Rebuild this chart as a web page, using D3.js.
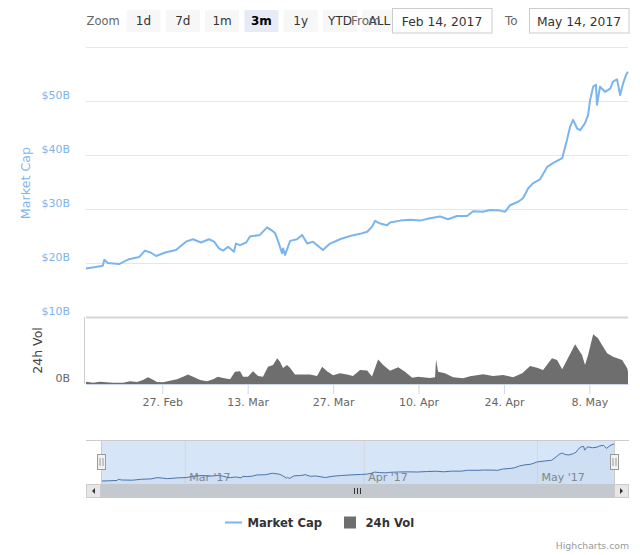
<!DOCTYPE html>
<html><head><meta charset="utf-8">
<script src="https://cdn.jsdelivr.net/npm/d3@7"></script>
<style>html,body{margin:0;padding:0;background:#fff;}svg{display:block;}</style>
</head><body>
<script>
// ---------- data ----------
const mcDates = ["2017-02-14T12","2017-02-15T20","2017-02-17T06","2017-02-17T12","2017-02-18T02","2017-02-19T22","2017-02-21T13","2017-02-23T05","2017-02-24T04","2017-02-25T04","2017-02-26T00","2017-02-27T15","2017-03-01T06","2017-03-02T21","2017-03-04T01","2017-03-05T08","2017-03-06T16","2017-03-07T12","2017-03-08T07","2017-03-08T23","2017-03-09T19","2017-03-10T18","2017-03-11T02","2017-03-11T18","2017-03-12T18","2017-03-13T09","2017-03-15T00","2017-03-16T04","2017-03-17T00","2017-03-17T12","2017-03-18T00","2017-03-18T15","2017-03-18T19","2017-03-19T03","2017-03-19T23","2017-03-21T02","2017-03-21T22","2017-03-22T18","2017-03-23T17","2017-03-25T08","2017-03-26T12","2017-03-28T03","2017-03-29T19","2017-03-31T10","2017-04-01T14","2017-04-02T09","2017-04-02T21","2017-04-03T17","2017-04-04T20","2017-04-05T08","2017-04-07T00","2017-04-08T15","2017-04-10T06","2017-04-11T21","2017-04-13T13","2017-04-14T20","2017-04-16T08","2017-04-17T23","2017-04-18T23","2017-04-20T14","2017-04-21T18","2017-04-23T09","2017-04-24T05","2017-04-25T00","2017-04-26T08","2017-04-27T03","2017-04-27T23","2017-04-28T19","2017-04-29T22","2017-05-01T02","2017-05-02T01","2017-05-03T13","2017-05-04T08","2017-05-04T20","2017-05-05T08","2017-05-06T00","2017-05-06T12","2017-05-07T07","2017-05-07T19","2017-05-08T03","2017-05-08T15","2017-05-09T02","2017-05-09T06","2017-05-09T18","2017-05-10T14","2017-05-11T10","2017-05-11T21","2017-05-12T13","2017-05-13T01","2017-05-13T13","2017-05-14T00","2017-05-14T08"];
const mcValues = [19.0,19.2,19.5,20.6,20.0,19.8,20.7,21.1,22.3,21.9,21.3,22.0,22.4,23.95,24.4,23.8,24.4,23.95,22.7,22.3,23.0,22.1,23.6,23.3,23.8,24.9,25.2,26.6,26.0,25.5,24.0,21.8,22.7,21.5,24.1,24.4,25.2,23.6,23.95,22.4,23.6,24.4,25.0,25.4,25.8,26.7,27.8,27.3,27.0,27.5,27.85,28.0,27.85,28.3,28.6,28.1,28.7,28.7,29.6,29.5,29.8,29.7,29.5,30.7,31.35,32.0,33.8,34.8,35.5,37.8,38.5,39.4,42.8,45.2,46.5,44.9,44.6,45.9,47.4,50.2,52.65,53.0,49.3,52.65,51.7,52.3,53.6,54.0,51.1,53.3,54.8,55.4];

const volDates = ["2017-02-14T12","2017-02-15T16","2017-02-16T19","2017-02-18T22","2017-02-20T14","2017-02-21T17","2017-02-22T21","2017-02-23T20","2017-02-24T16","2017-02-25T08","2017-02-26T03","2017-02-27T03","2017-02-28T06","2017-03-01T10","2017-03-02T10","2017-03-03T05","2017-03-04T01","2017-03-05T05","2017-03-06T08","2017-03-07T08","2017-03-08T03","2017-03-08T23","2017-03-10T03","2017-03-10T22","2017-03-11T18","2017-03-12T06","2017-03-13T01","2017-03-13T21","2017-03-14T17","2017-03-15T12","2017-03-16T08","2017-03-17T04","2017-03-17T20","2017-03-18T07","2017-03-18T19","2017-03-19T11","2017-03-19T23","2017-03-20T18","2017-03-22T02","2017-03-23T05","2017-03-24T09","2017-03-25T05","2017-03-26T00","2017-03-27T00","2017-03-28T03","2017-03-29T07","2017-03-30T06","2017-03-31T10","2017-04-01T14","2017-04-02T09","2017-04-03T09","2017-04-04T05","2017-04-05T08","2017-04-06T16","2017-04-07T19","2017-04-08T23","2017-04-09T22","2017-04-11T21","2017-04-12T17","2017-04-12T21","2017-04-13T05","2017-04-14T08","2017-04-15T16","2017-04-17T07","2017-04-18T11","2017-04-20T14","2017-04-22T05","2017-04-23T21","2017-04-25T12","2017-04-27T00","2017-04-28T07","2017-04-29T10","2017-04-30T10","2017-05-01T21","2017-05-02T17","2017-05-03T13","2017-05-04T08","2017-05-05T16","2017-05-06T19","2017-05-07T07","2017-05-07T19","2017-05-08T15","2017-05-09T10","2017-05-10T06","2017-05-10T22","2017-05-11T21","2017-05-13T09","2017-05-14T05","2017-05-14T08"];
const volValues = [0.14,0.08,0.14,0.08,0.08,0.16,0.12,0.24,0.40,0.28,0.12,0.10,0.20,0.28,0.44,0.56,0.44,0.24,0.16,0.28,0.44,0.36,0.28,0.73,0.76,0.44,0.44,0.76,0.48,0.44,1.03,1.13,1.53,1.33,0.96,1.13,0.96,0.56,0.56,0.56,0.48,1.03,0.76,0.52,0.64,0.56,0.48,0.84,0.81,0.45,1.46,1.13,0.79,1.00,0.73,0.38,0.44,0.36,0.40,1.47,0.73,0.64,0.40,0.34,0.46,0.58,0.48,0.54,0.40,0.64,1.07,0.97,0.84,1.53,1.43,0.88,1.43,2.37,1.73,1.13,1.73,2.97,2.73,2.23,1.83,1.63,1.43,0.94,0.73];

const xDomain = ["2017-02-14T12","2017-05-14T08"];
const xTickDates = ["2017-02-27T00","2017-03-13T00","2017-03-27T00","2017-04-10T00","2017-04-24T00","2017-05-08T00"];
const navTickDates = ["2017-03-01T00","2017-04-01T00","2017-05-01T00"];
const yTicks = [10,20,30,40,50,60];
const yTickLabels = ["$10B","$20B","$30B","$40B","$50B",""];
const volTicks = [0];
const volTickLabels = ["0B"];
const zoomButtons = ["1d","7d","1m","3m","1y","YTD","ALL"];
const selectedButton = "3m";
const fromDate = "Feb 14, 2017";
const toDate = "May 14, 2017";
const seriesNames = ["Market Cap","24h Vol"];

// ---------- drawing ----------
const W = 640, H = 555;
const FONT = "'DejaVu Sans', Verdana, sans-serif";
const BLUE = "#7cb5ec", GREY = "#6e6e6e";
const parse = d3.utcParse("%Y-%m-%dT%H");
const mc = mcDates.map((d,i)=>({t:parse(d), v:mcValues[i]}));
const vol = volDates.map((d,i)=>({t:parse(d), v:volValues[i]}));

const svg = d3.select("body").append("svg").attr("width",W).attr("height",H)
  .style("font-family",FONT);
svg.append("rect").attr("width",W).attr("height",H).attr("fill","#fff");

const L = 86, R = 628;
const x = d3.scaleUtc().domain(xDomain.map(parse)).range([L,R]);
const y = d3.scaleLinear().domain([10,60]).range([317,47]);
const yv = d3.scaleLinear().domain([0,4]).range([384,317]);

// range selector
const btnG = svg.append("g");
btnG.append("text").attr("x",86.5).attr("y",25).attr("fill","#666").attr("font-size","11.5px").text("Zoom");
zoomButtons.forEach((b,i)=>{
  const bx = 126.5 + i*39.3;
  const sel = b===selectedButton;
  btnG.append("rect").attr("x",bx).attr("y",10).attr("width",34).attr("height",22)
    .attr("fill", sel ? "#e6ebf5" : "#f7f7f7");
  btnG.append("text").attr("x",bx+17).attr("y",25).attr("text-anchor","middle")
    .attr("font-size","12px").attr("font-weight", sel ? "bold":"normal")
    .attr("fill", sel ? "#000" : "#333").text(b);
});
btnG.append("text").attr("x",351).attr("y",25).attr("fill","#666").attr("font-size","12px").text("From");
btnG.append("rect").attr("x",392.5).attr("y",8.5).attr("width",99.5).attr("height",24.5)
  .attr("fill","#fff").attr("stroke","#cccccc");
btnG.append("text").attr("x",442).attr("y",25.5).attr("text-anchor","middle").attr("fill","#333").attr("font-size","12.3px").text(fromDate);
btnG.append("text").attr("x",505).attr("y",25).attr("fill","#666").attr("font-size","12px").text("To");
btnG.append("rect").attr("x",529.5).attr("y",8.5).attr("width",99.5).attr("height",24.5)
  .attr("fill","#fff").attr("stroke","#cccccc");
btnG.append("text").attr("x",579).attr("y",25.5).attr("text-anchor","middle").attr("fill","#333").attr("font-size","12.3px").text(toDate);

// main y axis with grid
const yAx = svg.append("g").attr("transform",`translate(${L},0)`)
  .call(d3.axisLeft(y).tickValues(yTicks).tickSize(-(R-L)).tickPadding(16)
    .tickFormat((d,i)=>yTickLabels[i]));
yAx.select(".domain").remove();
yAx.selectAll(".tick line").attr("stroke","#e6e6e6");
yAx.selectAll(".tick").filter(d=>d===10).select("line").attr("stroke","#d6d6d6").attr("stroke-width",2);
yAx.selectAll(".tick text").attr("fill",BLUE).attr("font-size","11px").attr("font-family",FONT).attr("dy","-2.5px");

// volume y axis
const yvAx = svg.append("g").attr("transform",`translate(84,0)`)
  .call(d3.axisLeft(yv).tickValues(volTicks).tickSize(0).tickSizeOuter(0).tickPadding(14)
    .tickFormat((d,i)=>volTickLabels[i]));
yvAx.select(".domain").attr("stroke","#cccccc").attr("d","M0.5,317V384");
yvAx.selectAll(".tick text").attr("fill","#666").attr("font-size","11px").attr("font-family",FONT).attr("dy","-2.5px");

// axis titles
svg.append("text").attr("transform","translate(29.5,183) rotate(-90)").attr("text-anchor","middle")
  .attr("fill",BLUE).attr("font-size","12.7px").text(seriesNames[0]);
svg.append("text").attr("transform","translate(41.5,350.5) rotate(-90)").attr("text-anchor","middle")
  .attr("fill","#444").attr("font-size","12.5px").text(seriesNames[1]);

// volume area
svg.append("path").datum(vol)
  .attr("d", d3.area().x(d=>x(d.t)).y0(yv(0)).y1(d=>yv(d.v)))
  .attr("fill",GREY);

// x axis
const xAx = svg.append("g").attr("transform","translate(0,384)")
  .call(d3.axisBottom(x).tickValues(xTickDates.map(parse)).tickSize(10).tickSizeOuter(0).tickPadding(4)
    .tickFormat(d3.utcFormat("%-d. %b")));
xAx.select(".domain").attr("stroke","#ccd6eb");
xAx.selectAll(".tick line").attr("stroke","#ccd6eb");
xAx.selectAll(".tick text").attr("fill","#666").attr("font-size","11px").attr("font-family",FONT);

// market cap line
svg.append("path").datum(mc)
  .attr("d", d3.line().x(d=>x(d.t)).y(d=>y(d.v)))
  .attr("fill","none").attr("stroke",BLUE).attr("stroke-width",2).attr("stroke-linejoin","round");

// navigator
const NL = 101, NR = 614, NT = 440, NB = 484;
const nx = d3.scaleUtc().domain(xDomain.map(parse)).range([NL,NR]);
const ny = d3.scaleLinear().domain(d3.extent(mcValues)).range([481,444]);
svg.append("rect").attr("x",NL).attr("y",NT).attr("width",NR-NL).attr("height",NB-NT)
  .attr("fill","rgba(120,170,230,0.3)");
const nAx = svg.append("g").attr("transform",`translate(0,${NT})`)
  .call(d3.axisBottom(nx).tickValues(navTickDates.map(parse)).tickSize(NB-NT).tickSizeOuter(0)
    .tickFormat(d3.utcFormat("%b '%y")));
nAx.select(".domain").remove();
nAx.selectAll(".tick line").attr("stroke","#d8d8d8");
nAx.selectAll(".tick text").attr("fill","#888").attr("font-size","11px").attr("font-family",FONT)
  .attr("text-anchor","start").attr("x",4).attr("y",41).attr("dy",0);
svg.append("path").datum(mc)
  .attr("d", d3.area().x(d=>nx(d.t)).y0(NB).y1(d=>ny(d.v)))
  .attr("fill","rgba(51,92,173,0.05)");
svg.append("path").datum(mc)
  .attr("d", d3.line().x(d=>nx(d.t)).y(d=>ny(d.v)))
  .attr("fill","none").attr("stroke","#4a74ad").attr("stroke-width",1);
// outline
svg.append("path").attr("d",`M${L},${NT+0.5}H${R+1}M${NL+0.5},${NT}V${NB}M${NR+0.5},${NT}V${NB}`)
  .attr("stroke","#cccccc").attr("fill","none");
// handles
[NL,NR].forEach(hx=>{
  const g = svg.append("g").attr("transform",`translate(${hx+0.5},0)`);
  g.append("rect").attr("x",-4).attr("y",454.5).attr("width",8).attr("height",15)
    .attr("fill","#f2f2f2").attr("stroke","#999");
  g.append("path").attr("d","M-1.5,458V466M1.5,458V466").attr("stroke","#999");
});
// scrollbar
const ST = 484, SH = 14;
svg.append("rect").attr("x",L).attr("y",ST).attr("width",R+1-L).attr("height",SH).attr("fill","#f2f2f2");
svg.append("rect").attr("x",NL).attr("y",ST).attr("width",NR-NL).attr("height",SH).attr("fill","#c4c9d0");
svg.append("path").attr("d",`M${(NL+NR)/2-3},${ST+4}v6M${(NL+NR)/2},${ST+4}v6M${(NL+NR)/2+3},${ST+4}v6`)
  .attr("stroke","#333").attr("stroke-width",1);
[[L,-1],[NR,1]].forEach(([bx,dir])=>{
  svg.append("rect").attr("x",bx+0.5).attr("y",ST+0.5).attr("width",14).attr("height",SH-1)
    .attr("fill","#e6e6e6").attr("stroke","#cccccc");
  const cx = bx+7.5, cy = ST+7;
  svg.append("path").attr("d", dir<0 ? `M${cx+1.5},${cy-3}L${cx-1.5},${cy}L${cx+1.5},${cy+3}Z` : `M${cx-1.5},${cy-3}L${cx+1.5},${cy}L${cx-1.5},${cy+3}Z`)
    .attr("fill","#333");
});

// legend
const lg = svg.append("g").style("font-weight","bold").style("font-size","11.6px");
lg.append("path").attr("d","M225,522.5H242").attr("stroke",BLUE).attr("stroke-width",2);
lg.append("text").attr("x",247.5).attr("y",526.8).attr("fill","#333").text(seriesNames[0]);
lg.append("rect").attr("x",344).attr("y",516.5).attr("width",12).attr("height",12).attr("fill",GREY);
lg.append("text").attr("x",365.5).attr("y",526.8).attr("fill","#333").text(seriesNames[1]);

// credits
svg.append("text").attr("x",629).attr("y",548.5).attr("text-anchor","end").attr("fill","#999")
  .attr("font-size","9.3px").text("Highcharts.com");
</script>
</body></html>
